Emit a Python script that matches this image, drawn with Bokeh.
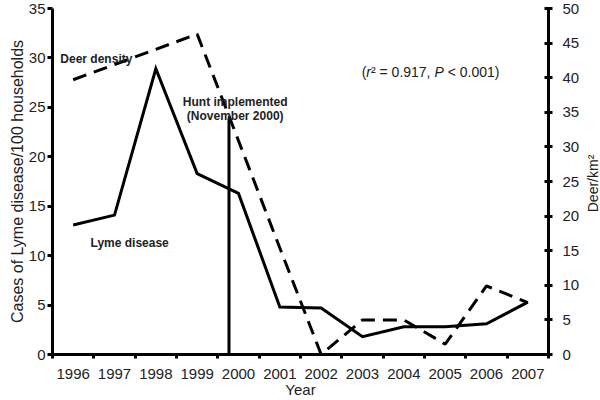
from bokeh.plotting import figure
from bokeh.layouts import row
from bokeh.models import LinearAxis, Range1d, FixedTicker, Label
from bokeh.embed import file_html
from bokeh.resources import INLINE

# values
years = [1996, 1997, 1998, 1999, 2000, 2001, 2002, 2003, 2004, 2005, 2006, 2007]
year_labels = [str(y) for y in years]
lyme_cases = [13.1, 14.1, 28.9, 18.3, 16.3, 4.8, 4.7, 1.8, 2.8, 2.8, 3.1, 5.3]
deer_density = [39.7, 41.9, 44.1, 46.3, 30.9, 15.4, 0.0, 5.0, 5.0, 1.5, 9.9, 7.5]
hunt_x = [1999.77]
hunt_top = [23.9]
cases_ticks = [0, 5, 10, 15, 20, 25, 30, 35]
deer_ticks = [0, 5, 10, 15, 20, 25, 30, 35, 40, 45, 50]

FONT = "Liberation Sans"
TEXT = "#222222"
H = 400
TOP, BOTTOM = 8, 46

p = figure(width=584, height=H, output_backend="svg", toolbar_location=None,
           x_range=Range1d(1995.5, 2007.5), y_range=Range1d(0, 35),
           min_border=0, min_border_left=52, min_border_right=36,
           min_border_top=TOP, min_border_bottom=BOTTOM)
p.extra_y_ranges = {"deer": Range1d(0, 50)}
p.xgrid.visible = p.ygrid.visible = False
p.outline_line_color = None
p.background_fill_color = None

# x axis: labels at the year, ticks between years
p.xaxis.ticker = FixedTicker(ticks=years,
                             minor_ticks=[y - 0.5 for y in years] + [years[-1] + 0.5])
p.xaxis.major_label_overrides = dict(zip(years, year_labels))
p.xaxis.major_tick_line_color = None
p.xaxis.major_tick_in = 0
p.xaxis.major_tick_out = 4
p.xaxis.minor_tick_in = 0
p.xaxis.minor_tick_out = 4
p.xaxis.minor_tick_line_width = 3
p.xaxis.minor_tick_line_color = "black"
p.xaxis.major_label_standoff = 10
p.xaxis.axis_label = "Year"
p.xaxis.axis_label_standoff = -1

p.yaxis.ticker = cases_ticks
p.yaxis.major_tick_in = 0
p.yaxis.major_tick_out = 5
p.yaxis.minor_tick_line_color = None
p.yaxis.major_label_standoff = 2
p.yaxis.axis_label = "Cases of Lyme disease/100 households"
p.yaxis.axis_label_standoff = 0

right = LinearAxis(y_range_name="deer", ticker=deer_ticks)
right.major_tick_in = 4
right.major_tick_out = 4
right.minor_tick_line_color = None
right.major_label_standoff = 10
p.add_layout(right, "right")

for ax in p.xaxis + p.yaxis + [right]:
    ax.axis_line_width = 3
    ax.axis_line_color = "black"
    ax.major_tick_line_width = 3
    ax.major_label_text_font = FONT
    ax.major_label_text_font_size = "15px"
    ax.major_label_text_color = TEXT
    ax.axis_label_text_font = FONT
    ax.axis_label_text_font_size = "16px"
    ax.axis_label_text_font_style = "normal"
    ax.axis_label_text_color = TEXT
p.xaxis.axis_label_text_font_size = "15px"

p.line(years, lyme_cases, line_width=3, color="black", line_join="miter")
p.line(years, deer_density, y_range_name="deer", line_width=3, color="black",
       line_dash="14 8")
p.segment(x0=hunt_x, y0=[0], x1=hunt_x, y1=hunt_top, line_width=3, color="black")


def note(fig, text, x, y, size="12px", style="bold", align="left", **kw):
    fig.add_layout(Label(x=x, y=y, text=text, text_font=FONT, text_font_size=size,
                         text_font_style=style, text_color=TEXT, text_align=align,
                         text_baseline="middle", **kw))


note(p, "Deer density", 1995.69, 29.9)
note(p, "Hunt implemented", 1999.92, 25.5, align="center")
note(p, "(November 2000)", 1999.92, 24.1, align="center")
note(p, "Lyme disease", 1996.42, 11.3)

# (r² = 0.917, P < 0.001) with italic r and P
stats = [("(", "normal", 0), ("r", "italic", 4.7), ("\u00b2 = 0.917,", "normal", 9.3),
         ("P", "italic", 72.8), ("\u00a0< 0.001)", "normal", 82.1)]
for piece, style, dx in stats:
    note(p, piece, 2002.98, 28.6, size="14px", style=style, x_offset=dx)

# right axis title, reading bottom to top, in a narrow strip beside the chart
side = figure(width=16, height=H, output_backend="svg", toolbar_location=None,
              x_range=Range1d(0, 1), y_range=Range1d(0, 35),
              min_border=0, min_border_top=TOP, min_border_bottom=BOTTOM)
side.axis.visible = False
side.xgrid.visible = side.ygrid.visible = False
side.outline_line_color = None
note(side, "Deer/km\u00b2", 0.55, 17.3, size="14px", style="normal", align="center",
     angle=90, angle_units="deg")

layout = row(p, side)
open("out.html", "w").write(file_html(layout, INLINE))
